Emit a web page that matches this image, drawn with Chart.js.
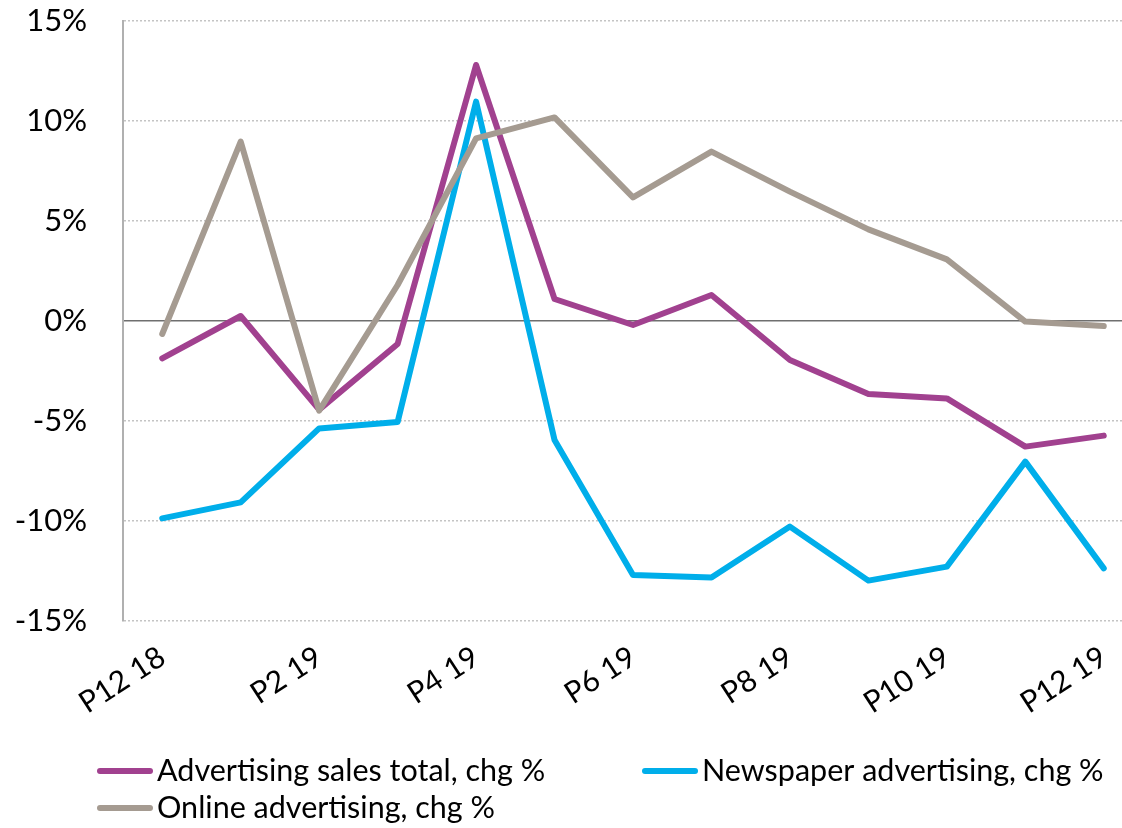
<!DOCTYPE html>
<html>
<head>
<meta charset="utf-8">
<title>Advertising sales</title>
<script src="https://cdn.jsdelivr.net/npm/chart.js@4.4.1/dist/chart.umd.min.js"></script>
<style>
  html, body { margin: 0; padding: 0; background: #fff; overflow: hidden; }
  #wrap { width: 1122px; height: 828px; overflow: hidden; }
  canvas { display: block; }
</style>
</head>
<body>
<div id="wrap">
  <canvas id="adChart" width="1145" height="828"></canvas>
</div>
<script>
var periods = ['P12 18', 'P1 19', 'P2 19', 'P3 19', 'P4 19', 'P5 19', 'P6 19',
               'P7 19', 'P8 19', 'P9 19', 'P10 19', 'P11 19', 'P12 19'];
var salesTotal = [-1.87, 0.25, -4.43, -1.15, 12.8, 1.1, -0.2, 1.3, -1.95, -3.65, -3.87, -6.28, -5.73];
var newspaper = [-9.87, -9.07, -5.37, -5.05, 10.97, -5.95, -12.7, -12.83, -10.28, -12.98, -12.28, -7.03, -12.37];
var online = [-0.65, 8.97, -4.48, 1.8, 9.13, 10.18, 6.18, 8.47, 6.47, 4.58, 3.08, -0.03, -0.25];
var yTicks = [-15, -10, -5, 0, 5, 10, 15];

var FONT = 'Lato, "Open Sans", sans-serif';

// legend drawn by hand so the two columns line up like the printed version
var bottomLegend = {
  id: 'bottomLegend',
  afterDraw: function(chart) {
    var ctx = chart.ctx;
    var slots = [{x: 97, y: 771}, {x: 642, y: 771}, {x: 97, y: 808}];
    ctx.save();
    ctx.font = '30.5px ' + FONT;
    ctx.textBaseline = 'middle';
    ctx.textAlign = 'left';
    chart.data.datasets.forEach(function(ds, i) {
      var s = slots[i];
      ctx.strokeStyle = ds.borderColor;
      ctx.lineWidth = 6;
      ctx.lineCap = 'round';
      ctx.beginPath();
      ctx.moveTo(s.x + 3, s.y);
      ctx.lineTo(s.x + 53, s.y);
      ctx.stroke();
      ctx.fillStyle = '#000';
      ctx.fillText(ds.label, s.x + 60, s.y);
    });
    ctx.restore();
  }
};

var lineStyle = {
  borderWidth: 6,
  pointRadius: 0,
  pointHoverRadius: 0,
  tension: 0,
  fill: false,
  borderCapStyle: 'round',
  borderJoinStyle: 'round'
};

new Chart(document.getElementById('adChart'), {
  type: 'line',
  data: {
    labels: periods,
    datasets: [
      Object.assign({label: 'Advertising sales total, chg %', data: salesTotal,
        borderColor: '#a1418f', order: 1}, lineStyle),
      Object.assign({label: 'Newspaper advertising, chg %', data: newspaper,
        borderColor: '#00aeea', order: 2}, lineStyle),
      Object.assign({label: 'Online advertising, chg %', data: online,
        borderColor: '#a59b91', order: 0}, lineStyle)
    ]
  },
  options: {
    responsive: false,
    animation: false,
    layout: { padding: { top: 21, right: 2, left: 0, bottom: 0 } },
    plugins: {
      legend: { display: false },
      tooltip: { enabled: false }
    },
    scales: {
      x: {
        offset: true,
        grid: { display: false },
        border: { display: false },
        ticks: {
          autoSkip: false,
          minRotation: 33,
          maxRotation: 33,
          padding: 10,
          color: '#000',
          font: { family: FONT, size: 30 },
          callback: function(value, index) {
            return index % 2 === 0 ? periods[index] : '';
          }
        },
        afterFit: function(scale) { scale.height = 207; }
      },
      y: {
        min: -15,
        max: 15,
        afterBuildTicks: function(scale) {
          scale.ticks = yTicks.map(function(v) { return {value: v}; });
        },
        grid: {
          // invisible tick marks keep the labels clear of the axis
          drawTicks: true,
          tickLength: 36,
          tickColor: 'rgba(0,0,0,0)',
          color: function(c) {
            return c.tick && c.tick.value === 0 ? '#6f6f6f' : '#c4c4c4';
          },
          lineWidth: 1.5
        },
        border: {
          display: true,
          color: '#b0b0b0',
          width: 2,
          dash: function(c) {
            return c.tick && c.tick.value !== 0 ? [2, 2] : [];
          }
        },
        ticks: {
          padding: 0,
          color: '#000',
          font: { family: FONT, size: 31 },
          callback: function(value) { return value + '%'; }
        },
        afterFit: function(scale) { scale.width = 123; }
      }
    }
  },
  plugins: [bottomLegend]
});
</script>
</body>
</html>
